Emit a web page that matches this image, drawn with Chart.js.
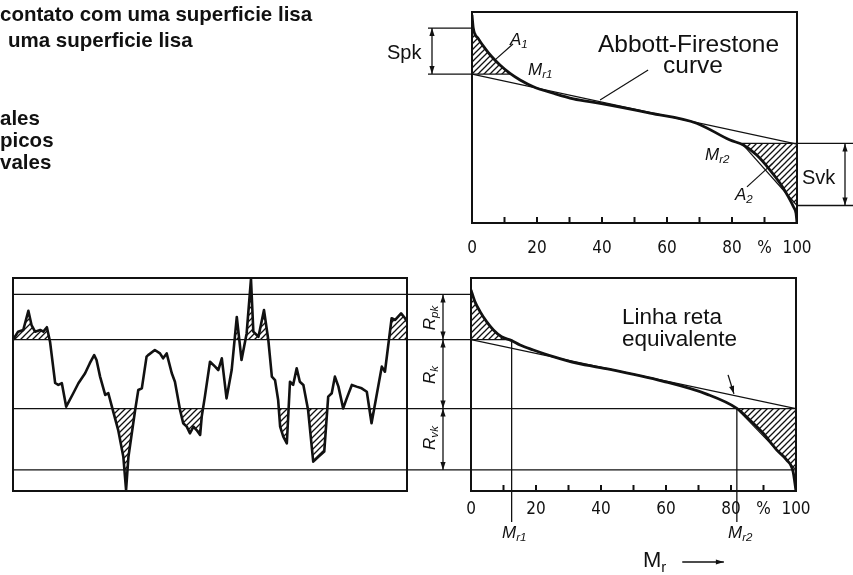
<!DOCTYPE html>
<html lang="pt">
<head>
<meta charset="UTF-8">
<title>Curva de Abbott-Firestone</title>
<script src="https://cdn.jsdelivr.net/npm/chart.js"></script>
<style>
    body { margin: 0; background: #fff; }
    #wrap { position: relative; width: 853px; height: 575px; overflow: hidden; background: #fff; }
    canvas { position: absolute; left: 0; top: 0; }
    .t { position: absolute; white-space: nowrap; line-height: 1; font-family: 'Liberation Sans', Arial, sans-serif; color: #111; }
    .b { font-weight: bold; }
    .i { font-style: italic; }
    .s { position: relative; top: 0.3em; font-size: 0.68em; }
</style>
</head>
<body>
<div id="wrap">
    <canvas id="topChart" width="853" height="575"></canvas>
    <canvas id="profileChart" width="853" height="575"></canvas>
    <canvas id="bottomChart" width="853" height="575"></canvas>
</div>

<script>
// eixo Mr (%)
const mrValues = [0, 10, 20, 30, 40, 50, 60, 70, 80, 90, 100];
const mrLabels = ['0', '', '20', '', '40', '', '60', '', '80', '%', '100'];

// gráfico de cima: curva de Abbott-Firestone
const topCurveX = [0, 0.4, 1.9, 4.0, 6.1, 8.6, 11.7, 14.8, 18.9, 25.0, 31.2, 39.4, 54.8, 69.1, 79.4, 83.5, 87.6, 91.7, 94.8, 97.3, 98.9, 99.7, 100];
const topCurveY = [98.6, 92.3, 87.5, 82.8, 78.8, 74.9, 70.9, 67.8, 64.6, 61.5, 58.8, 56.7, 52.1, 47.3, 39.3, 37.0, 32.2, 25.1, 18.8, 12.5, 7.7, 4.6, 0];
const topLineY = [70.6, 37.4];      // reta equivalente em 0 % e 100 %
const spk = [92.4, 70.6];
const svk = [37.7, 8.3];
const topMr = [12.0, 83.0];

// perfil de rugosidade
const profileX = [0, 1.3, 2.6, 3.9, 4.7, 5.6, 6.9, 7.7, 8.6, 9.4, 10.7, 11.5, 12.4, 13.5, 15.3, 16.6, 18.3, 19.5, 20.6, 21.2,
    22.1, 23.4, 24.2, 25.1, 26.7, 28.0, 28.7, 29.3, 31.0, 31.8, 32.7, 33.9, 34.3, 36.0, 37.3, 38.1, 39.0, 40.3, 41.1, 42.4,
    43.2, 44.1, 44.9, 45.8, 46.6, 47.5, 47.9, 48.7, 50.0, 51.3, 52.1, 53.0, 54.2, 55.5, 56.8, 58.0, 59.3, 60.4, 61.0, 62.3,
    63.7, 64.8, 65.7, 66.5, 67.3, 67.8, 68.6, 69.5, 70.3, 71.1, 72.0, 72.8, 73.7, 74.9, 76.2, 77.5, 79.0, 80.0, 80.9, 81.7,
    82.6, 83.8, 84.7, 86.0, 87.2, 88.5, 89.8, 91.0, 92.3, 93.6, 94.4, 96.1, 97.0, 98.5, 99.5, 100];
const profileY = [71.0, 74.8, 75.6, 84.6, 77.9, 74.8, 75.6, 74.8, 76.9, 70.1, 50.7, 49.8, 50.6, 39.6, 45.9, 50.6, 55.3, 60.0, 63.8, 61.5,
    53.7, 45.1, 45.9, 39.6, 28.6, 16.1, 0.5, 16.1, 38.0, 47.4, 48.2, 63.1, 63.8, 66.2, 64.6, 62.3, 64.6, 55.3, 51.3, 38.0,
    31.8, 30.2, 27.1, 30.2, 28.6, 26.3, 34.9, 44.3, 60.7, 58.4, 56.8, 62.3, 43.5, 56.8, 81.7, 61.5, 74.0, 99.5, 74.8, 72.4,
    85.0, 70.9, 53.7, 52.1, 42.7, 30.2, 25.5, 22.4, 51.3, 49.8, 57.6, 51.3, 49.8, 38.0, 13.8, 16.1, 18.5, 44.3, 45.9, 53.7,
    49.0, 38.8, 43.5, 49.8, 49.0, 48.2, 46.6, 31.8, 45.1, 58.4, 56.0, 81.1, 80.3, 83.4, 81.1, 79.5];
const rLevels = [92.3, 71.1, 38.7, 9.9];   // topo Rpk, topo Rk, topo Rvk, base Rvk

// gráfico de baixo: curva de Abbott-Firestone com Rk
const botCurveX = [0, 1.2, 2.8, 4.8, 6.9, 9.4, 12.5, 15.1, 19.2, 25.3, 32.5, 42.8, 59.2, 72.5, 81.8, 85.8, 89.9, 94.1, 97.1, 99.1, 100];
const botCurveY = [94.4, 88.9, 84.2, 79.5, 75.6, 72.4, 70.6, 68.5, 66.2, 63.1, 60.0, 57.1, 51.5, 45.5, 38.8, 33.3, 27.1, 19.2, 14.6, 9.1, 0];
const botLineY = [71.1, 38.7];
const botMr = [12.5, 81.8];

const ink = '#111';
const tickFont = { family: "'Liberation Sans Narrow', 'DejaVu Sans Condensed', sans-serif", size: 17 };

function pts(xs, ys) {
    return xs.map((x, i) => ({ x: x, y: ys[i] }));
}

function makeHatch() {
    const c = document.createElement('canvas');
    c.width = 6; c.height = 6;
    const g = c.getContext('2d');
    g.strokeStyle = ink;
    g.lineWidth = 1.3;
    g.beginPath();
    g.moveTo(-1, 7); g.lineTo(7, -1);
    g.moveTo(-4, 4); g.lineTo(4, -4);
    g.moveTo(2, 10); g.lineTo(10, 2);
    g.stroke();
    return g.createPattern(c, 'repeat');
}
const hatch = makeHatch();
const clear = 'rgba(0,0,0,0)';

function line(ctx, x1, y1, x2, y2, w) {
    ctx.lineWidth = w || 1.3;
    ctx.beginPath();
    ctx.moveTo(x1, y1);
    ctx.lineTo(x2, y2);
    ctx.stroke();
}

// ponta de seta com a ponta em (x, y), vinda de (fx, fy)
function head(ctx, x, y, fx, fy) {
    const ang = Math.atan2(y - fy, x - fx);
    const len = 8, hw = 2.6;
    ctx.beginPath();
    ctx.moveTo(x, y);
    ctx.lineTo(x - len * Math.cos(ang) - hw * Math.sin(ang), y - len * Math.sin(ang) + hw * Math.cos(ang));
    ctx.lineTo(x - len * Math.cos(ang) + hw * Math.sin(ang), y - len * Math.sin(ang) - hw * Math.cos(ang));
    ctx.closePath();
    ctx.fill();
}

function dimArrow(ctx, x, y1, y2) {
    line(ctx, x, y1, x, y2, 1.3);
    head(ctx, x, y1, x, y2);
    head(ctx, x, y2, x, y1);
}

const framePlugin = {
    id: 'frame',
    afterDatasetsDraw(chart) {
        const { ctx, chartArea: a } = chart;
        const xs = chart.scales.x;
        ctx.save();
        ctx.strokeStyle = ink;
        ctx.lineWidth = 2;
        ctx.strokeRect(a.left, a.top, a.right - a.left, a.bottom - a.top);
        if (xs.options.display) {
            mrValues.forEach(v => {
                if (v > 0 && v < 100) {
                    const px = xs.getPixelForValue(v);
                    line(ctx, px, a.bottom, px, a.bottom - 6, 2);
                }
            });
        }
        ctx.restore();
    }
};

function chartOptions(padding, showX, xHeight, tickPad) {
    return {
        responsive: false,
        animation: false,
        events: [],
        layout: { padding: padding },
        plugins: { legend: { display: false }, tooltip: { enabled: false } },
        elements: { point: { radius: 0 } },
        scales: {
            x: {
                type: 'linear', min: 0, max: 100, display: showX,
                grid: { display: false }, border: { display: false },
                afterFit: s => { s.height = xHeight; },
                ticks: {
                    stepSize: 10, autoSkip: false, maxRotation: 0, padding: tickPad,
                    color: ink, font: tickFont,
                    callback: (v, i) => mrLabels[i]
                }
            },
            y: { type: 'linear', min: 0, max: 100, display: false }
        }
    };
}

// ---------- gráfico de cima ----------
const topCurve = pts(topCurveX, topCurveY);
const topA1 = [{ x: 0, y: spk[0] }]
    .concat(topCurve.filter(p => p.x > 0 && p.x < topMr[0] && p.y <= spk[0]))
    .concat([{ x: topMr[0], y: spk[1] }]);
const topA2 = [{ x: topMr[1], y: svk[0] }]
    .concat(topCurve.filter(p => p.x > topMr[1] && p.y > svk[1] && p.y < svk[0]))
    .concat([{ x: 100, y: svk[1] }]);

const topDeco = {
    id: 'topDeco',
    afterDatasetsDraw(chart) {
        const { ctx, chartArea: a, scales: { x, y } } = chart;
        const X = v => x.getPixelForValue(v), Y = v => y.getPixelForValue(v);
        ctx.save();
        ctx.strokeStyle = ink;
        ctx.fillStyle = ink;
        line(ctx, X(0), Y(spk[1]), X(topMr[0]), Y(spk[1]), 1.3);
        line(ctx, X(topMr[1]), Y(svk[0]), a.right + 56, Y(svk[0]), 1.3);
        line(ctx, X(topMr[1]), Y(svk[0]), X(100), Y(svk[1]), 1.2);
        // Spk
        line(ctx, a.left - 44, Y(spk[0]), a.left, Y(spk[0]), 1.3);
        line(ctx, a.left - 44, Y(spk[1]), a.left, Y(spk[1]), 1.3);
        dimArrow(ctx, a.left - 40, Y(spk[0]), Y(spk[1]));
        // Svk
        line(ctx, a.right, Y(svk[1]), a.right + 56, Y(svk[1]), 1.3);
        dimArrow(ctx, a.right + 48, Y(svk[0]), Y(svk[1]));
        // linhas de chamada
        line(ctx, X(12.6), Y(84.8), X(7.1), Y(77.3), 1.2);
        line(ctx, X(54.2), Y(72.5), X(39.4), Y(58.3), 1.2);
        line(ctx, X(84.6), Y(17.1), X(92.6), Y(28.4), 1.2);
        ctx.restore();
    }
};

new Chart(document.getElementById('topChart'), {
    type: 'line',
    data: {
        datasets: [
            { data: topCurve, borderColor: ink, borderWidth: 2.8, cubicInterpolationMode: 'monotone', fill: false },
            { data: pts([0, 100], topLineY), borderColor: ink, borderWidth: 1.3, fill: false },
            { data: topA1, borderWidth: 0, cubicInterpolationMode: 'monotone', backgroundColor: hatch, fill: { target: { value: spk[1] }, above: hatch, below: hatch } },
            { data: topA2, borderWidth: 0, cubicInterpolationMode: 'monotone', backgroundColor: hatch, fill: { target: { value: svk[0] }, above: hatch, below: hatch } }
        ]
    },
    options: chartOptions({ left: 472, top: 12, right: 56, bottom: 312 }, true, 40, 7),
    plugins: [framePlugin, topDeco]
});

// ---------- perfil ----------
const profile = pts(profileX, profileY);
const profileChart = new Chart(document.getElementById('profileChart'), {
    type: 'line',
    data: {
        datasets: [
            { data: profile, borderColor: ink, borderWidth: 2.6, borderJoinStyle: 'round',
              fill: { target: { value: rLevels[1] }, above: hatch, below: clear } },
            { data: profile, borderWidth: 0,
              fill: { target: { value: rLevels[2] }, above: clear, below: hatch } }
        ]
    },
    options: chartOptions({ left: 13, top: 278, right: 446, bottom: 84 }, false, 0, 0),
    plugins: [framePlugin]
});

// ---------- gráfico de baixo ----------
const botCurve = pts(botCurveX, botCurveY);
const botA1 = [{ x: 0, y: rLevels[0] }]
    .concat(botCurve.filter(p => p.x > 0 && p.x < botMr[0] && p.y <= rLevels[0]))
    .concat([{ x: botMr[0], y: rLevels[1] }]);
const botA2 = [{ x: botMr[1], y: rLevels[2] }]
    .concat(botCurve.filter(p => p.x > botMr[1] && p.y > rLevels[3] && p.y < rLevels[2]))
    .concat([{ x: 100, y: rLevels[3] }]);

const botDeco = {
    id: 'botDeco',
    afterDatasetsDraw(chart) {
        const { ctx, chartArea: a, scales: { x, y } } = chart;
        const X = v => x.getPixelForValue(v), Y = v => y.getPixelForValue(v);
        const L0 = profileChart.chartArea.left;
        ctx.save();
        ctx.strokeStyle = ink;
        ctx.fillStyle = ink;
        // níveis que atravessam os dois gráficos
        line(ctx, L0, Y(rLevels[0]), a.left, Y(rLevels[0]), 1.3);
        line(ctx, L0, Y(rLevels[1]), X(botMr[0]), Y(rLevels[1]), 1.3);
        line(ctx, L0, Y(rLevels[2]), a.right, Y(rLevels[2]), 1.3);
        line(ctx, L0, Y(rLevels[3]), a.right, Y(rLevels[3]), 1.3);
        // Mr1, Mr2
        line(ctx, X(botMr[0]), Y(rLevels[1]), X(botMr[0]), a.bottom + 31, 1.3);
        line(ctx, X(botMr[1]), Y(rLevels[2]), X(botMr[1]), a.bottom + 31, 1.3);
        line(ctx, X(botMr[1]), Y(rLevels[2]), X(100), Y(rLevels[3]), 1.2);
        // cotas Rpk, Rk, Rvk
        const dx = a.left - 28;
        dimArrow(ctx, dx, Y(rLevels[0]), Y(rLevels[1]));
        dimArrow(ctx, dx, Y(rLevels[1]), Y(rLevels[2]));
        dimArrow(ctx, dx, Y(rLevels[2]), Y(rLevels[3]));
        // seta da reta equivalente
        line(ctx, X(79.1), Y(54.5), X(80.9), Y(45.6), 1.3);
        head(ctx, X(80.9), Y(45.6), X(79.1), Y(54.5));
        // seta Mr
        line(ctx, X(65), a.bottom + 71, X(77.8), a.bottom + 71, 1.5);
        head(ctx, X(77.8), a.bottom + 71, X(65), a.bottom + 71);
        ctx.restore();
    }
};

new Chart(document.getElementById('bottomChart'), {
    type: 'line',
    data: {
        datasets: [
            { data: botCurve, borderColor: ink, borderWidth: 2.8, cubicInterpolationMode: 'monotone', fill: false },
            { data: pts([0, 100], botLineY), borderColor: ink, borderWidth: 1.3, fill: false },
            { data: botA1, borderWidth: 0, cubicInterpolationMode: 'monotone', backgroundColor: hatch, fill: { target: { value: rLevels[1] }, above: hatch, below: hatch } },
            { data: botA2, borderWidth: 0, cubicInterpolationMode: 'monotone', backgroundColor: hatch, fill: { target: { value: rLevels[2] }, above: hatch, below: hatch } }
        ]
    },
    options: chartOptions({ left: 471, top: 278, right: 57, bottom: 54 }, true, 30, 0),
    plugins: [framePlugin, botDeco]
});

// ---------- textos ----------
const texts = [
    ['contato com uma superficie lisa', 0, 21, 20.5, 'b'],
    ['uma superficie lisa', 8, 47, 20.5, 'b'],
    ['ales', 0, 125, 20.5, 'b'],
    ['picos', 0, 147, 20.5, 'b'],
    ['vales', 0, 169, 20.5, 'b'],
    ['Spk', 387, 59, 20, ''],
    ['Svk', 802, 184, 20, ''],
    ['Abbott-Firestone', 598, 53, 24.5, ''],
    ['curve', 663, 74, 24.5, ''],
    ['Linha reta', 622, 325, 22.5, ''],
    ['equivalente', 622, 347, 22.5, ''],
    ['A<span class="s">1</span>', 510, 45, 17, 'i'],
    ['M<span class="s">r1</span>', 528, 75, 17, 'i'],
    ['M<span class="s">r2</span>', 705, 160, 17, 'i'],
    ['A<span class="s">2</span>', 735, 200, 17, 'i'],
    ['M<span class="s">r1</span>', 502, 538, 17, 'i'],
    ['M<span class="s">r2</span>', 728, 538, 17, 'i'],
    ['M<span class="s">r</span>', 643, 568, 22, '']
];
const rotated = [
    ['R<span class="s">pk</span>', 429, 318, 17],
    ['R<span class="s">k</span>', 429, 375, 17],
    ['R<span class="s">vk</span>', 429, 438, 17]
];
const wrap = document.getElementById('wrap');
texts.forEach(([html, x, base, size, cls]) => {
    const d = document.createElement('div');
    d.className = 't ' + cls;
    d.style.left = x + 'px';
    d.style.top = (base - 0.85 * size) + 'px';
    d.style.fontSize = size + 'px';
    d.innerHTML = html;
    wrap.appendChild(d);
});
rotated.forEach(([html, cx, cy, size]) => {
    const d = document.createElement('div');
    d.className = 't i';
    d.style.left = cx + 'px';
    d.style.top = cy + 'px';
    d.style.fontSize = size + 'px';
    d.style.transform = 'translate(-50%, -50%) rotate(-90deg)';
    d.innerHTML = html;
    wrap.appendChild(d);
});
</script>
</body>
</html>
